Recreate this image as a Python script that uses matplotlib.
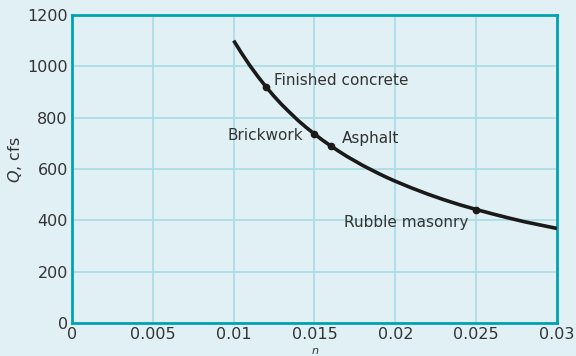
import numpy as np
import matplotlib.pyplot as plt

# curve
n_vals = [0.0100, 0.0105, 0.0110, 0.0115, 0.0120, 0.0125, 0.0130, 0.0135,
          0.0140, 0.0145, 0.0150, 0.0155, 0.0160, 0.0165, 0.0170, 0.0175,
          0.0180, 0.0185, 0.0190, 0.0195, 0.0200, 0.0210, 0.0220, 0.0230,
          0.0240, 0.0250, 0.0260, 0.0270, 0.0280, 0.0290, 0.0300]
q_vals = [1100, 1050, 1003, 960, 920, 883, 849, 818,
          788, 761, 736, 712, 690, 669, 649, 631,
          613, 597, 581, 566, 552, 526, 502, 480,
          460, 442, 425, 409, 394, 381, 368]

# marked materials
mat_names = ["Finished concrete", "Brickwork", "Asphalt", "Rubble masonry"]
mat_n = [0.012, 0.015, 0.016, 0.025]
mat_q = [920, 736, 690, 440]

bg = "#e1f0f4"
teal = "#00a3b4"
grid_c = "#a9dce5"
txt = "#333333"

plt.rcParams['font.family'] = ['DejaVu Sans']

fig = plt.figure(figsize=(5.76, 3.56), dpi=100, facecolor=bg)
ax = fig.add_axes([0.125, 0.093, 0.842, 0.865])
ax.set_facecolor(bg)

ax.plot(n_vals, q_vals, color="#1a1a1a", lw=2.6, solid_joinstyle="round",
        solid_capstyle="butt", zorder=3)
ax.plot(mat_n, mat_q, "o", color="#1a1a1a", ms=4.5, zorder=4)

fs = 11
ax.text(0.0125, 943, mat_names[0], fontsize=fs, color=txt, va="center", ha="left")
ax.text(0.0143, 730, mat_names[1], fontsize=fs, color=txt, va="center", ha="right")
ax.text(0.0167, 717, mat_names[2], fontsize=fs, color=txt, va="center", ha="left")
ax.text(0.0168, 393, mat_names[3], fontsize=fs, color=txt, va="center", ha="left")

ax.set_xlim(0, 0.03)
ax.set_ylim(0, 1200)
ax.set_xticks([0, 0.005, 0.01, 0.015, 0.02, 0.025, 0.03])
ax.set_xticklabels(["0", "0.005", "0.01", "0.015", "0.02", "0.025", "0.03"])
ax.set_yticks(range(0, 1201, 200))
ax.tick_params(length=0, labelsize=11.5, labelcolor=txt, pad=3)
ax.grid(color=grid_c, lw=1.2)
ax.set_axisbelow(True)
for s in ax.spines.values():
    s.set_color(teal)
    s.set_linewidth(2)

ax.set_ylabel(r"$Q$, cfs", fontsize=11.5, color=txt)
ax.yaxis.set_label_coords(-0.098, 0.53)
fig.text(0.548, 0.0, r"$n$", fontsize=8, color=txt, ha="center", va="bottom")

fig.savefig("out.png", dpi=100, facecolor=bg)
